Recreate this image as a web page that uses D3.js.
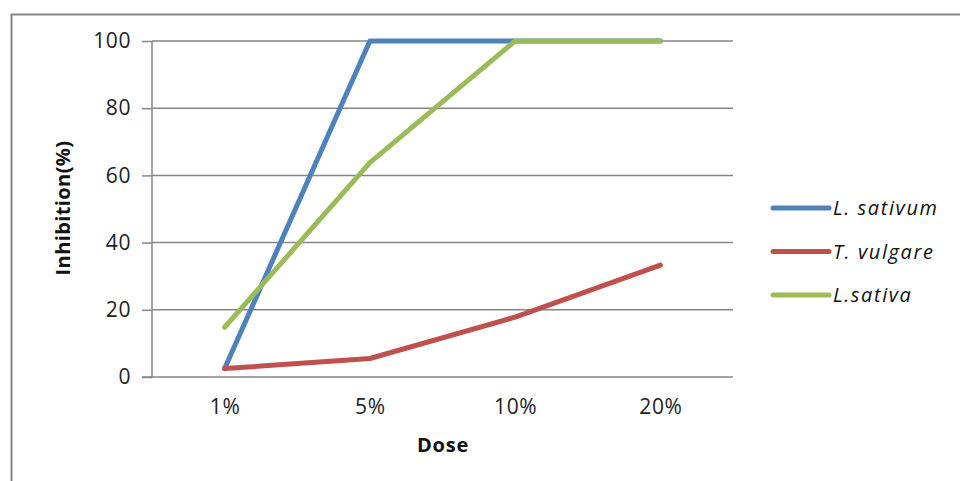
<!DOCTYPE html>
<html><head><meta charset="utf-8">
<script src="https://cdn.jsdelivr.net/npm/d3@7"></script>
<style>body{margin:0;background:#fff}svg{display:block}</style>
</head><body>
<script>
const categories = ["1%", "5%", "10%", "20%"];
const lSativum = [2.5, 100, 100, 100];
const tVulgare = [2.5, 5.5, 17.8, 33.3];
const lSativa = [14.8, 63.8, 100, 100];
const seriesNames = ["L. sativum", "T. vulgare", "L.sativa"];
const seriesColors = ["#4F81BD", "#C0504D", "#9BBB59"];
const yTicks = [0, 20, 40, 60, 80, 100];

const series = [lSativum, tVulgare, lSativa].map((v, i) => ({name: seriesNames[i], color: seriesColors[i], values: v}));

const W = 960, H = 481;
const svg = d3.select("body").append("svg").attr("width", W).attr("height", H);
const font = "'Open Sans', 'Segoe UI', sans-serif";

// outer border (cropped on right/bottom)
svg.append("path").attr("d", `M11.5,${H} V14.5 H${W}`).attr("fill", "none").attr("stroke", "#868686").attr("stroke-width", 2);

const pLeft = 152, pRight = 733, pTop = 41, pBottom = 377;
const x = d3.scalePoint().domain(categories).range([pLeft, pRight]).padding(0.5);
const y = d3.scaleLinear().domain([0, 100]).range([pBottom, pTop]);

// gridlines
svg.append("g").selectAll("line").data(yTicks.filter(d => d > 0)).join("line")
  .attr("x1", pLeft).attr("x2", pRight).attr("y1", d => y(d)).attr("y2", d => y(d))
  .attr("stroke", "#868686").attr("stroke-width", 1.5);

// y axis
const yAxis = svg.append("g").attr("transform", `translate(${pLeft},0)`)
  .call(d3.axisLeft(y).tickValues(yTicks).tickSize(10).tickPadding(8));
yAxis.select(".domain").attr("stroke", "#868686").attr("stroke-width", 1.5).attr("d", `M0,${pTop}V${pBottom}`);
yAxis.selectAll(".tick line").attr("stroke", "#868686").attr("stroke-width", 1.5);
yAxis.selectAll("text").attr("font-family", font).attr("font-size", 21).attr("letter-spacing", 0.6).attr("fill", "#222").attr("dx", "-3");

// x axis
const xAxis = svg.append("g").attr("transform", `translate(0,${pBottom})`)
  .call(d3.axisBottom(x).tickSize(0).tickPadding(22));
xAxis.select(".domain").attr("stroke", "#868686").attr("stroke-width", 1.5).attr("d", `M${pLeft - 10},0H${pRight}`);
xAxis.selectAll("text").attr("font-family", font).attr("font-size", 21).attr("letter-spacing", 0.6).attr("fill", "#222");

// lines
const line = d3.line().x((d, i) => x(categories[i])).y(d => y(d));
svg.append("g").selectAll("path").data(series).join("path")
  .attr("d", d => line(d.values)).attr("fill", "none")
  .attr("stroke", d => d.color).attr("stroke-width", 5).attr("stroke-linecap", "round").attr("stroke-linejoin", "round");

// axis titles
svg.append("text").attr("x", 443).attr("y", 452).attr("text-anchor", "middle")
  .attr("font-family", font).attr("font-weight", "bold").attr("font-size", 20).attr("letter-spacing", 0.8).attr("fill", "#111").text("Dose");
svg.append("text").attr("transform", "translate(70,208) rotate(-90)").attr("text-anchor", "middle")
  .attr("font-family", font).attr("font-weight", "bold").attr("font-size", 20).attr("letter-spacing", 0.4).attr("fill", "#111").text("Inhibition(%)");

// legend
const lg = svg.append("g").selectAll("g").data(series).join("g")
  .attr("transform", (d, i) => `translate(773,${208 + i * 43.5})`);
lg.append("line").attr("x1", 0).attr("x2", 56).attr("stroke", d => d.color).attr("stroke-width", 5).attr("stroke-linecap", "round");
lg.append("text").attr("x", 60).attr("y", 7).attr("font-family", font).attr("font-style", "italic")
  .attr("font-size", 20).attr("letter-spacing", 1.6).attr("fill", "#111").text(d => d.name);
</script>
</body></html>
